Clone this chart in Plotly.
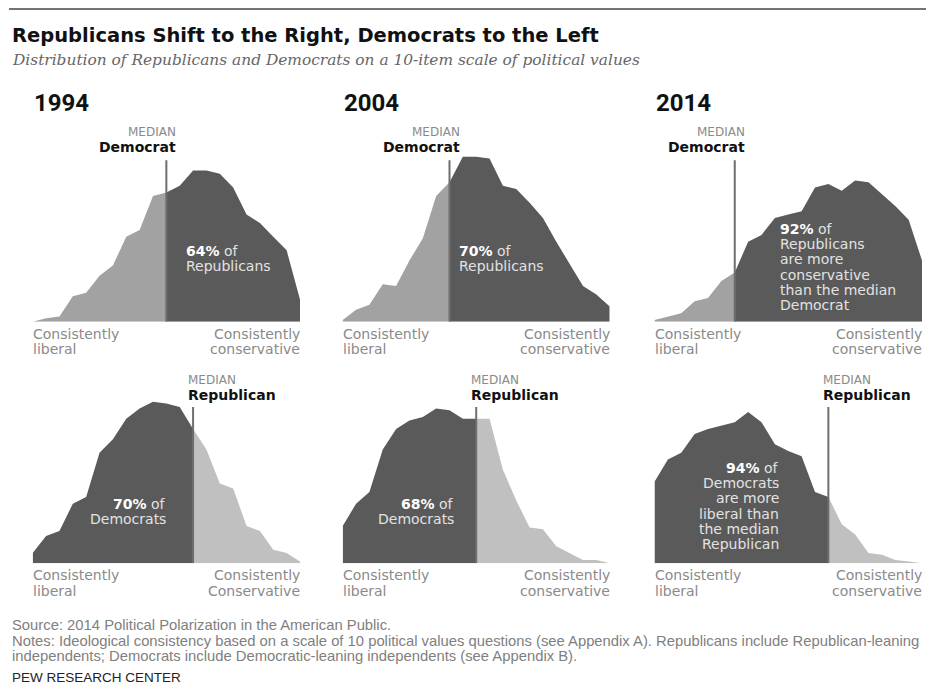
import numpy as np
import plotly.graph_objects as go

# ---------------- data ----------------
scale = list(range(-10, 11))  # ideological consistency scale (-10 liberal .. +10 conservative)

rep_1994 = [0.0, 0.2, 0.3, 1.5, 1.7, 2.7, 3.3, 5.0, 5.4, 7.4, 7.6, 8.0, 8.9, 8.9, 8.7, 7.9, 6.3, 5.8, 5.0, 4.2, 1.3]
rep_2004 = [0.1, 0.7, 1.0, 2.2, 2.1, 3.6, 4.9, 7.4, 8.2, 9.7, 9.7, 9.6, 8.0, 7.8, 7.0, 6.1, 4.7, 3.4, 2.1, 1.6, 0.9]
rep_2014 = [0.1, 0.3, 0.5, 1.2, 1.4, 2.4, 2.9, 4.7, 5.1, 6.1, 6.3, 6.5, 7.9, 8.1, 7.7, 8.3, 8.2, 7.5, 6.8, 6.0, 3.6]

dem_1994 = [0.6, 1.6, 1.9, 3.5, 3.9, 6.5, 7.3, 8.5, 9.1, 9.5, 9.4, 9.2, 7.9, 6.7, 4.7, 4.4, 2.2, 1.9, 0.8, 0.6, 0.1]
dem_2004 = [2.2, 3.5, 4.2, 6.7, 7.9, 8.4, 8.6, 9.1, 9.0, 8.5, 8.5, 8.5, 5.5, 3.7, 2.1, 2.0, 1.0, 0.6, 0.2, 0.2, 0.0]
dem_2014 = [4.8, 6.1, 6.5, 7.6, 7.9, 8.1, 8.3, 8.9, 8.3, 7.0, 6.6, 6.3, 4.2, 3.9, 2.3, 1.7, 0.6, 0.5, 0.2, 0.1, 0.0]

years = ["1994", "2004", "2014"]
median_dem = [0, -2, -4]   # median Democrat on the scale
median_rep = [2, 0, 3]     # median Republican on the scale
share_rep = ["64%", "70%", "92%"]
share_dem = ["70%", "68%", "94%"]
rep_lines = [["of", "Republicans"], ["of", "Republicans"],
             ["of", "Republicans", "are more", "conservative", "than the median", "Democrat"]]
dem_lines = [["of", "Democrats"], ["of", "Democrats"],
             ["of", "Democrats", "are more", "liberal than", "the median", "Republican"]]
left_label = ["Consistently", "liberal"]
right_labels_top = [["Consistently", "conservative"]] * 3
right_labels_bottom = [["Consistently", "Conservative"], ["Consistently", "conservative"], ["Consistently", "conservative"]]
title = "Republicans Shift to the Right, Democrats to the Left"
subtitle = "Distribution of Republicans and Democrats on a 10-item scale of political values"
footer_lines = [
    "Source: 2014 Political Polarization in the American Public.",
    "Notes: Ideological consistency based on a scale of 10 political values questions (see Appendix A). Republicans include Republican-leaning",
    "independents; Democrats include Democratic-leaning independents (see Appendix B).",
]
credit = "PEW RESEARCH CENTER"

# ---------------- layout constants ----------------
W, H = 926, 696
SANS = "DejaVu Sans, Verdana, sans-serif"
col_px = [(32.7, 300.0), (342.7, 609.7), (654.5, 922.0)]
base_px = [321.7, 563.3]
PX_PER_UNIT = 17.0
YMAX = 10.1


def px_x(p):
    return p / W


def px_y(p):
    return 1 - p / H


fig = go.Figure()
layout_axes = {}


def label(x, y_px, text, anchor, size, color, family=SANS, xref="paper", xshift=0):
    if xref == "paper":
        x = px_x(x)
    pad = {"left": -2, "right": 2, "center": 0}[anchor]
    fig.add_annotation(xref=xref, yref="paper", x=x, y=px_y(y_px), text=text, showarrow=False,
                       xanchor=anchor, yanchor="middle", xshift=xshift + pad,
                       font=dict(family=family, size=size, color=color))


rows = [
    (rep_1994, rep_2004, rep_2014),
    (dem_1994, dem_2004, dem_2014),
]
medians = [median_dem, median_rep]
fills = [("#a2a2a2", "#5a5a5a"), ("#5a5a5a", "#c0c0c0")]

# in-area text placement (first line centre px, offset from median px)
inner_y0 = [[251, 251, 229], [504, 504, 468]]
inner_dx = [[20, 9, 45], [-27, -22, -49]]
INNER_STEP = 15.2

ax_i = 0
for r in range(2):
    for c in range(3):
        ax_i += 1
        xa = "x" if ax_i == 1 else f"x{ax_i}"
        ya = "y" if ax_i == 1 else f"y{ax_i}"
        vals = np.array(rows[r][c], dtype=float)
        xs = np.array(scale, dtype=float)
        m = medians[r][c]
        ym = float(np.interp(m, xs, vals))
        left_x = list(xs[xs < m]) + [m]
        left_y = list(vals[xs < m]) + [ym]
        right_x = [m] + list(xs[xs > m])
        right_y = [ym] + list(vals[xs > m])
        lc, rc = fills[r]
        fig.add_trace(go.Scatter(x=left_x, y=left_y, fill="tozeroy", mode="lines",
                                 line=dict(width=0, color=lc), fillcolor=lc,
                                 xaxis=xa, yaxis=ya, hoverinfo="skip", showlegend=False))
        fig.add_trace(go.Scatter(x=right_x, y=right_y, fill="tozeroy", mode="lines",
                                 line=dict(width=0, color=rc), fillcolor=rc,
                                 xaxis=xa, yaxis=ya, hoverinfo="skip", showlegend=False))
        x0p, x1p = col_px[c]
        b = base_px[r]
        top = b - YMAX * PX_PER_UNIT
        key = "" if ax_i == 1 else str(ax_i)
        layout_axes["xaxis" + key] = dict(domain=[px_x(x0p), px_x(x1p)], range=[-10, 10],
                                          visible=False, fixedrange=True, anchor=ya)
        layout_axes["yaxis" + key] = dict(domain=[px_y(b), px_y(top)], range=[0, YMAX],
                                          visible=False, fixedrange=True, anchor=xa)
        # median line
        line_top = 9.5 if r == 0 else 9.2
        fig.add_shape(type="line", xref=xa, yref=ya, x0=m, x1=m, y0=0, y1=line_top,
                      line=dict(color="#6e6e6e", width=2), layer="above")
        if r == 0:
            label(m, 131.7, "MEDIAN", "right", 12, "#8a8a8a", xref=xa, xshift=10)
            label(m, 146.7, "<b>Democrat</b>", "right", 14, "#111111", xref=xa, xshift=10)
            lines = rep_lines[c]
            pct = share_rep[c]
            anchor = "left"
        else:
            label(m, 380, "MEDIAN", "left", 12, "#8a8a8a", xref=xa, xshift=-5)
            label(m, 395, "<b>Republican</b>", "left", 14, "#111111", xref=xa, xshift=-5)
            lines = dem_lines[c]
            pct = share_dem[c]
            anchor = "right"
        for k, ln in enumerate(lines):
            txt = f"<b><span style='color:#ffffff'>{pct}</span></b> {ln}" if k == 0 else ln
            label(m, inner_y0[r][c] + k * INNER_STEP, txt, anchor, 14, "#e2e2e2",
                  xref=xa, xshift=inner_dx[r][c])
        # axis end labels
        rl = right_labels_top[c] if r == 0 else right_labels_bottom[c]
        for k in range(2):
            label(x0p, b + 12 + k * 15.2, left_label[k], "left", 14, "#8a8a8a")
            label(x1p, b + 12 + k * 15.2, rl[k], "right", 14, "#8a8a8a")
        if r == 0:
            label(x0p + 1, 103, f"<b>{years[c]}</b>", "left", 24, "#111111",
                  family="Roboto, Liberation Sans, Arial")

# title / subtitle
label(12, 35, f"<b>{title}</b>", "left", 19.5, "#111111")
label(12, 60, f"<i>{subtitle}</i>", "left", 15.4, "#666666", family="DejaVu Serif, Georgia, serif")
# footer
for k, ln in enumerate(footer_lines):
    label(12, 625 + k * 15.5, ln, "left", 14.8, "#808080", family="Liberation Sans, Arial, sans-serif")
label(12, 677, credit, "left", 13.5, "#222222", family="Liberation Sans, Arial, sans-serif")
# top rule
fig.add_shape(type="line", xref="paper", yref="paper", x0=px_x(9), x1=1, y0=px_y(9), y1=px_y(9),
              line=dict(color="#444444", width=1.5))

fig.update_layout(width=W, height=H, margin=dict(l=0, r=0, t=0, b=0),
                  paper_bgcolor="white", plot_bgcolor="rgba(0,0,0,0)", showlegend=False,
                  **layout_axes)
fig.write_html("out.html", config={"displayModeBar": False, "staticPlot": True},
               post_script="document.body.style.margin='0px';document.body.style.overflow='hidden';")
